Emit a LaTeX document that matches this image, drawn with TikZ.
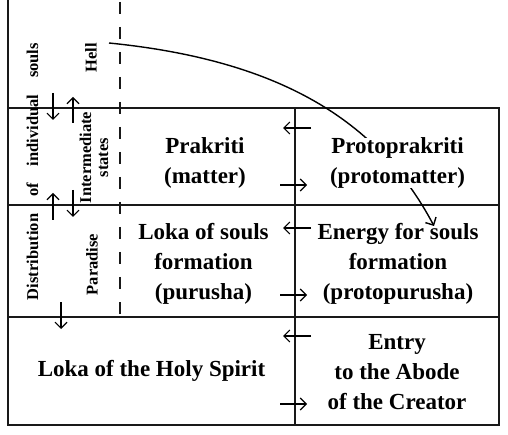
\documentclass[tikz,border=0pt]{standalone}
\usepackage{fontspec}
\setmainfont{Liberation Serif}
\usepackage{tikz}
\usetikzlibrary{arrows.meta}
\colorlet{frameblack}{black!90}

\begin{document}
\begin{tikzpicture}[x=1pt,y=-1pt,
        box/.style={align=center,font=\bfseries\fontsize{23}{30}\selectfont,inner sep=0pt},
        side/.style={rotate=90,align=center,font=\bfseries\fontsize{16.5}{17}\selectfont,inner sep=0pt},
        flow/.style={-{Straight Barb[length=6pt,width=12pt]},line width=1.1pt}]
        \useasboundingbox (0,0) rectangle (508,435);
        \foreach \y in {108,205,317,425}{
            \draw[frameblack, line width=2pt, line cap=rect](8,\y)--(499,\y);
        }
        \foreach \x in {295,499}{
            \draw[frameblack, line width=2pt](\x,108)--(\x,425);
        }
        \draw[frameblack, line width=2pt](8,0)--(8,425);
        \draw[frameblack, line width=1.8pt, dash pattern=on 12pt off 13pt](120,2)--(120,317);
        \foreach \x/\ya/\yb in {53/93/120, 73/123/97, 53/220/193, 73/190/217, 61/302/329}{
            \draw[flow](\x,\ya)--(\x,\yb);
        }
        \foreach \y in {128,228,336}{
            \draw[flow](311,\y)--(283,\y);
        }
        \foreach \y in {185,295,404}{
            \draw[flow](280,\y)--(307,\y);
        }
        \node[side] (distrib) at (32.5,171.5) {\makebox[257pt][s]{Distribution of individual souls}};
        \node[side] (hell) at (91,58) {Hell};
        \node[side] (interm) at (94,157.5) {Intermediate\\states};
        \node[side] (paradise) at (92,264.5) {Paradise};
        \node[box] (prakriti) at (205,163) {Prakriti\\(matter)};
        \node[box] (lokasouls) at (203.5,264) {Loka of souls\\formation\\(purusha)};
        \node[box] (holyspirit) at (151.5,371) {Loka of the Holy Spirit};
        \node[box] (energy) at (398,264) {Energy for souls\\formation\\(protopurusha)};
        \node[box] (entry) at (397,372.5) {Entry\\to the Abode\\of the Creator};
        \coordinate (hellend) at (109,43);
        \coordinate (soulsend) at (434,226);
        \draw[flow, line width=1.4pt](hellend) .. controls (279,60) and (378,120) .. (soulsend);
        \node[box, fill=white] (proto) at (397.5,163) {Protoprakriti\\(protomatter)};
    \end{tikzpicture}
\end{document}
